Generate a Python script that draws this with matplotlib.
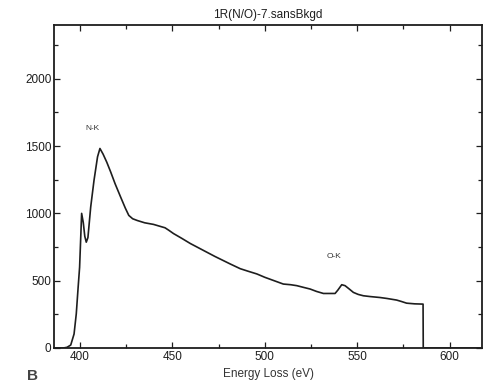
import matplotlib
matplotlib.use("Agg")
import matplotlib.pyplot as plt
from matplotlib.ticker import MultipleLocator

plt.rcParams['font.family'] = ['Liberation Sans', 'DejaVu Sans']

title = "1R(N/O)-7.sansBkgd"
xlabel = "Energy Loss (eV)"

energy = [386, 391, 393, 395, 396.8, 398, 399, 399.8, 400.9, 401.8, 402.6, 403.4,
          404.3, 405.8, 407.6, 409.5, 410.8, 412.5, 414.5, 416.6, 419, 422, 424.5,
          426.4, 428.5, 431, 435, 439.8, 443, 446, 448, 450.6, 455, 459.7, 464,
          468.7, 473, 477.6, 481.3, 486.7, 491, 495.7, 500, 505, 510, 514, 517.3,
          521, 524.5, 528, 531.7, 535, 538, 539.5, 541.6, 543.4, 545.5, 547.9,
          550.5, 553.3, 557, 562.3, 566, 571.3, 574, 576.7, 581, 585.6, 585.7, 617]
intensity = [0, 0, 5, 22, 104, 254, 450, 600, 1000, 930, 830, 786,
             820, 1047, 1246, 1420, 1482, 1440, 1380, 1308, 1220, 1121, 1040,
             985, 960, 947, 930, 918, 905, 893, 875, 850, 815, 776, 745,
             711, 680, 649, 624, 589, 570, 550, 525, 500, 475, 470, 463,
             450, 438, 420, 405, 405, 405, 430, 470, 463, 440, 413,
             398, 388, 382, 375, 368, 356, 345, 333, 328, 326, 0, 0]

peak_labels = ["N-K", "O-K"]
peak_pos = [(406.7, 1634), (537.5, 679)]

xticks = [400, 450, 500, 550, 600]
yticks = [0, 500, 1000, 1500, 2000]

ink = "#1e1e1e"
fig = plt.figure(figsize=(4.83, 3.83), dpi=100)
ax = fig.add_axes([0.112, 0.0914, 0.886, 0.8436])
ax.plot(energy, intensity, color=ink, lw=1.2)
ax.set_xlim(386, 617.5)
ax.set_ylim(0, 2400)
ax.set_xticks(xticks)
ax.set_yticks(yticks)
ax.xaxis.set_minor_locator(MultipleLocator(25))
ax.yaxis.set_minor_locator(MultipleLocator(250))
ax.tick_params(which='both', direction='in', top=True, right=True, colors=ink,
               labelsize=8.5, width=0.9)
ax.tick_params(which='major', length=4, pad=2)
ax.tick_params(which='minor', length=3)
for s in ax.spines.values():
    s.set_linewidth(1.3)
    s.set_color(ink)
for lab, (x, y) in zip(peak_labels, peak_pos):
    ax.text(x, y, lab, fontsize=6, ha='center', va='center', color="#333333")
ax.set_title(title, fontsize=8.5, color=ink, pad=5)
ax.set_xlabel(xlabel, fontsize=8.5, color="#333333", labelpad=4)
fig.text(0.055, 0.001, "B", fontsize=11, fontweight='bold', color="#444444",
         ha='left', va='bottom')
fig.savefig("out.png", dpi=100)
